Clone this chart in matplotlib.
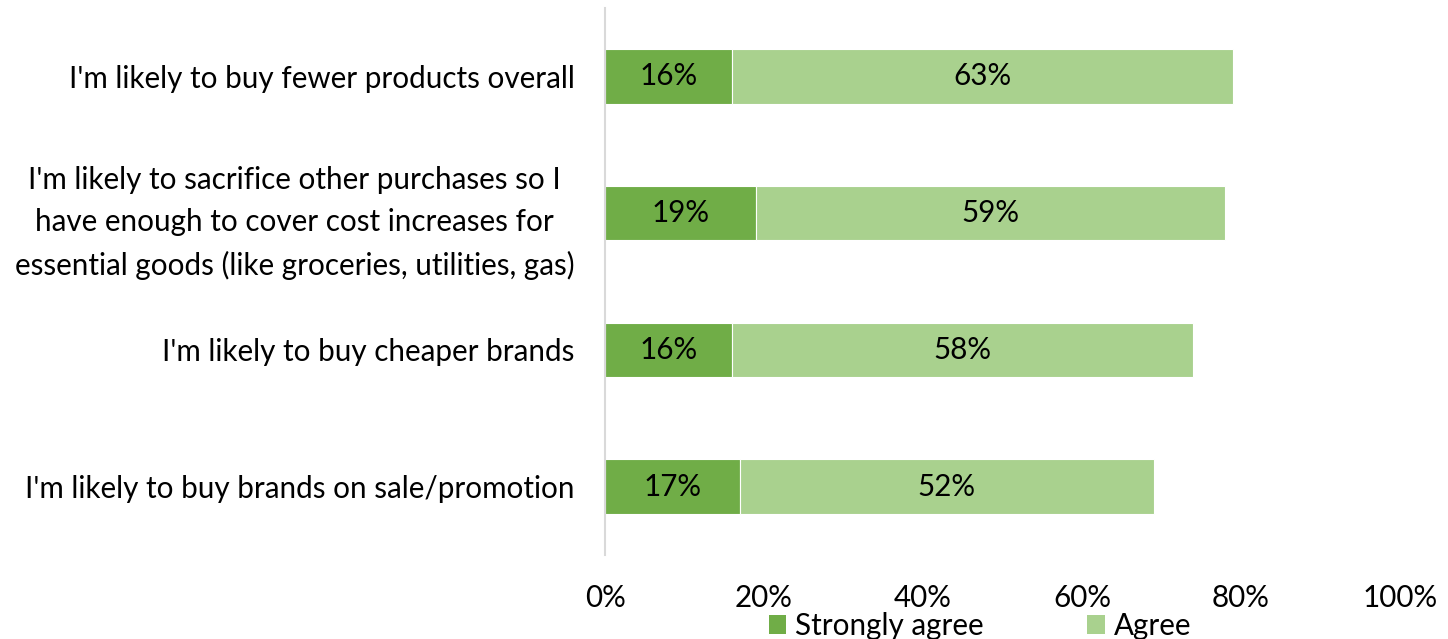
import matplotlib.pyplot as plt
from matplotlib.patches import Patch

categories = [
    "I'm likely to buy fewer products overall",
    "I'm likely to sacrifice other purchases so I\nhave enough to cover cost increases for\nessential goods (like groceries, utilities, gas)",
    "I'm likely to buy cheaper brands",
    "I'm likely to buy brands on sale/promotion",
]
strongly_agree = [16, 19, 16, 17]
agree = [63, 59, 58, 52]
series_names = ["Strongly agree", "Agree"]
x_ticks = [0, 20, 40, 60, 80, 100]

dark_green = "#70AD47"
light_green = "#A9D18E"

plt.rcParams["font.family"] = ["Lato", "DejaVu Sans"]
fs = 21.3

fig = plt.figure(figsize=(14.48, 6.39), dpi=100)
ax = fig.add_axes([605 / 1448, 1 - 555 / 639, 795 / 1448, 547 / 639])

y = list(range(len(categories)))
b1 = ax.barh(y, strongly_agree, height=0.4, color=dark_green,
             edgecolor="white", linewidth=0.8)
b2 = ax.barh(y, agree, left=strongly_agree, height=0.4, color=light_green,
             edgecolor="white", linewidth=0.8)

for vals, lefts in ((strongly_agree, [0] * len(y)), (agree, strongly_agree)):
    for yi, v, l in zip(y, vals, lefts):
        ax.text(l + v / 2, yi, f"{v}%", ha="center", va="center",
                fontsize=fs, color="black")

ax.set_xlim(0, 100)
ax.set_ylim(3.5, -0.5)
ax.set_yticks(y)
ax.set_yticklabels(categories, fontsize=fs, multialignment="center", linespacing=1.6)
ax.set_xticks(x_ticks)
ax.set_xticklabels([f"{t}%" for t in x_ticks], fontsize=fs)
ax.tick_params(axis="both", length=0)
ax.tick_params(axis="y", pad=22)
ax.tick_params(axis="x", pad=21)

for side in ("top", "right", "bottom"):
    ax.spines[side].set_visible(False)
ax.spines["left"].set_color("#D9D9D9")
ax.spines["left"].set_linewidth(1.5)

handles = [Patch(facecolor=dark_green, label=series_names[0]),
           Patch(facecolor=light_green, label=series_names[1])]
fig.legend(handles=handles, loc="center", bbox_to_anchor=(980 / 1448, 1 - 626 / 639),
           ncol=2, frameon=False, fontsize=fs, handlelength=0.6, handleheight=0.6,
           handletextpad=0.3, columnspacing=3.5, borderaxespad=0, borderpad=0)

fig.savefig("out.png", dpi=100)
